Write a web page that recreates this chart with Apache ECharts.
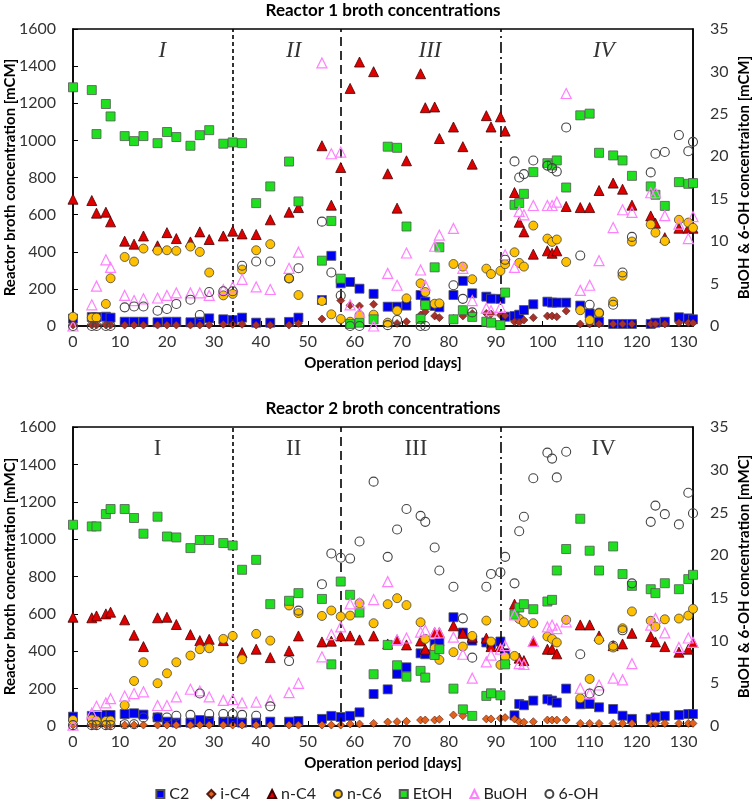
<!DOCTYPE html>
<html>
<head>
<meta charset="utf-8">
<script src="https://cdn.jsdelivr.net/npm/echarts@6/dist/echarts.min.js"></script>
<style>
  html, body { margin: 0; padding: 0; background: #fff; }
  #chart { width: 754px; height: 802px; }
</style>
</head>
<body>
<div id="chart"></div>
<script>
// sampling days (shared by both reactors)
var days = [0, 4, 5, 7, 8, 11, 13, 15, 18, 20, 22, 25, 27, 29, 32, 34, 36, 39, 42, 46, 48,
  53, 55, 57, 59, 61, 64, 67, 69, 71, 74, 75, 77, 78, 81, 83, 85, 88, 89, 91, 92,
  94, 95, 96, 98, 101, 102, 103, 105, 108, 110, 112, 115, 117, 119, 123, 124, 126, 129, 131, 132];

var seriesNames = ['C2', 'i-C4', 'n-C4', 'n-C6', 'EtOH', 'BuOH', '6-OH'];
var xTicks = [0, 10, 20, 30, 40, 50, 60, 70, 80, 90, 100, 110, 120, 130];
var phaseNames = ['I', 'II', 'III', 'IV'];
var phaseX1 = [19, 47, 76, 113];
var phaseX2 = [18, 47, 73, 113];
var phaseY = 1480;
var phaseBounds = [34, 57, 91];

// Reactor 1 [mCM], BuOH & 6-OH on right axis
var r1C2 = [40, 48, 48, 50, 45, 23, 23, 23, 20, 23, 23, 20, 23, 41, 36, 32, 45, 18, 18, 22, 45,
  140, 378, 230, 237, 201, 173, 104, 104, 110, 167, 131, 108, 101, 167, 243, 176, 158, 147, 146, 50,
  54, 61, 86, 117, 131, 126, 126, 126, 110, 68, 23, 11, 11, 11, 11, 18, 23, 47, 41, 36];
var r1iC4 = [5, 5, 5, 5, 5, 5, 5, 5, 5, 5, 5, 5, 5, 5, 9, 9, 9, 5, 5, 5, 14,
  38, null, 137, 112, 108, 117, 18, 14, 23, 59, 77, 54, 45, 41, 54, 68, 68, 65, 59, 56,
  23, 20, 32, 45, 54, 54, 50, 81, 11, 11, 11, 11, 11, 11, 11, 11, 11, 18, 18, 16];
var r1nC4 = [683, 676, 608, 613, 561, 457, 441, 485, 432, 503, 471, 453, 507, 466, 485, 511, 496, 493, 572, 613, 638,
  971, 651, 854, 1280, 1422, 1370, 820, 635, 890, 1359, 1176, 1180, 1010, 1072, 966, 872, 1133, 1072, 1127, 1050,
  719, 559, 507, 387, 405, 392, 405, 644, 638, 638, 730, 770, 737, 651, 593, 554, 476, 527, 527, 527];
var r1nC6 = [50, 45, 45, 119, 257, 372, 347, 417, 406, 408, 405, 428, 399, 288, 165, 173, 304, 408, 441, 257, 167,
  135, 63, 38, 23, 58, 61, 18, 83, 149, 230, 183, 120, 122, 334, 320, 252, 309, 280, 297, 333,
  397, 340, 320, 541, 471, 453, 466, 345, 85, 32, 72, 131, 271, 455, 547, 503, 458, 572, 557, 529];
var r1EtOH = [1286, 1271, 1034, 1196, 1129, 1023, 996, 1023, 985, 1045, 1018, 971, 1028, 1055, 982, 989, 985, 662, 752, 886, 671,
  352, 566, 255, 11, 18, 36, 966, 960, 536, 38, 113, 316, 424, 36, 85, 49, 23, 18, 5, 180,
  653, 662, 712, 829, 877, 865, 892, 746, 1135, 1144, 933, 919, 892, 809, 752, 707, 647, 775, 766, 770];
var r1BuOH = [0, 2.5, 4.7, 7.8, 6.9, 3.6, 3.0, 3.2, 3.3, 3.6, 3.9, 3.9, 3.9, 3.6, 4.3, 4.6, 5.5, 4.6, 4.3, 6.8, 8.7,
  31.0, 20.3, 20.5, 2.5, 1.6, 0, 6.2, 4.8, 8.6, 6.6, 4.8, 9.4, 10.7, 11.5, 6.8, 3.0, 2.1, 1.8, 2.2, 8.4,
  6.9, 13.5, 13.1, 14.2, 14.2, 14.2, 14.6, 27.4, 4.2, 4.8, 7.7, 11.6, 13.7, 13.4, 15.7, 15.7, 13.0, 12.0, 10.3, 12.9];
var r1SixOH = [0, 0, 0, 0, 0, 2.2, 2.3, 2.3, 1.8, 2.0, 2.6, 3.1, 1.3, 4.0, 4.1, 4.1, 7.1, 7.6, 7.6, 5.6, 6.8,
  12.3, 6.3, 3.6, 0, 0, null, 0.1, 0.7, null, 0, 0, null, null, 4.8, 3.2, 1.6, null, null, null, 7.8,
  19.4, 17.5, 17.9, 19.5, 18.9, 18.6, 18.2, 23.4, 8.3, 2.5, 1.5, 2.5, 6.3, 10.5, 18.1, 20.3, 20.5, 22.5, 20.6, 21.7];

// Reactor 2 [mMC]
var r2C2 = [50, 54, 57, 59, 59, 64, 68, 61, 46, 23, 18, 18, 32, 27, 23, 23, 18, 18, 23, 23, 27,
  38, 54, 48, 54, 73, 171, 196, 279, 314, 389, 384, 439, 452, 582, 500, 457, 447, 439, 452, 390,
  57, 118, 111, 136, 143, 136, 125, 200, 116, 118, 100, 91, 55, 38, 38, 46, 54, 59, 64, 64];
var r2iC4 = [5, 5, 5, 5, 5, 5, 5, 5, 5, 5, 5, 5, 5, 5, 5, 5, 5, 5, 5, 5, 5,
  5, 5, 5, 11, 11, 14, 21, 23, 25, 32, 32, 32, 36, 59, 55, null, 38, 38, 41, 45,
  38, 23, 20, 23, 32, 32, 32, 32, 14, 14, 14, 14, 14, 14, 14, 14, 14, 14, 14, 14];
var r2nC4 = [582, 579, 589, 600, 609, 568, 486, 425, 579, 582, 543, 489, 457, 464, 457, null, 393, 411, 366, 402, 482,
  450, 454, 482, 482, 461, 482, 439, 461, 434, 455, 411, 500, 500, 536, 496, 475, 470, 425, 425, 354,
  652, 363, 350, 452, 411, 411, 386, null, 541, 541, 482, 430, 439, 496, 479, 450, 425, 395, 411, 447];
var r2nC6 = [32, 36, 29, 27, 29, 111, 241, 341, 229, 282, 341, 377, 411, 416, 466, 482, 357, 493, 457, 645, 604,
  589, 618, 586, 591, 657, 550, 652, 684, 647, 555, 466, 416, 354, 395, 425, 482, 564, 452, 327, 371,
  375, 573, 555, 550, 479, 466, 447, 568, 148, 252, 461, 420, 523, 613, 563, 532, 571, 575, 591, 627];
var r2EtOH = [1077, 1068, 1068, 1134, 1161, 1161, 1113, 1029, 1120, 1014, 1009, 952, 995, 995, 979, 966, 836, 889, 652, 670, 711,
  680, 330, 773, 702, 607, 277, 434, 325, 264, 295, 259, 380, 411, 200, 89, 54, 161, 175, 164, 330,
  595, 634, 652, 625, 666, 675, 832, 947, 1109, 938, 832, 961, 813, 750, 732, 711, 764, 732, 786, 809];
var r2BuOH = [0.1, 1.5, 2.3, 2.7, 3.2, 3.5, 3.8, 4.0, 2.4, 2.4, 3.4, 4.3, 4.1, 3.4, 3.0, 3.1, 2.7, 2.8, 3.0, 3.9, 5.0,
  8.1, 10.7, 11.6, 14.3, 14.4, 14.8, 16.9, 10.1, 10.3, 11.0, 11.2, 10.9, 10.9, 10.4, 8.4, 5.6, 7.5, 8.3, 9.0, 9.4,
  13.0, 7.3, 7.2, 9.9, 11.6, 11.8, 11.4, 12.2, 4.4, 3.8, 4.8, 5.6, 5.4, 7.3, 11.8, 12.6, 10.9, 9.2, 10.3, 9.8];
var r2SixOH = [0.1, 0.1, 0.1, 0.1, 0.1, 0.2, 0.2, 1.0, 1.0, 1.0, 1.2, 1.3, 3.8, 1.4, 1.4, 1.4, 1.3, 1.2, 2.3, 7.6, 13.5,
  16.6, 20.2, 19.7, 19.6, 21.6, 28.6, 19.8, 23.0, 25.4, 24.6, 23.9, 20.9, 18.2, 16.3, 12.6, 8.0, 16.3, 17.8, 18.0, 19.8,
  16.7, 22.8, 24.5, 29.0, 32.0, 31.3, 29.1, 32.1, 8.4, 3.8, 4.1, 9.4, 11.2, 16.7, 23.9, 25.8, 24.8, 23.6, 27.3, 24.9];

var font = 'Lato, "Noto Sans", sans-serif';

function pts(vals) {
	var out = [];
	for (var i = 0; i < days.length; i++) {
		if (vals[i] != null) out.push([days[i], vals[i]]);
	}
	return out;
}

// marker look per series, index follows seriesNames
function markerStyles(iC4Color) {
	return [
		{ symbol: 'rect', size: 9, itemStyle: { color: '#0000f0', borderColor: '#555', borderWidth: 0.8 } },
		{ symbol: 'diamond', size: 8, itemStyle: { color: iC4Color, borderColor: '#5a1a10', borderWidth: 0.6 } },
		{ symbol: 'triangle', size: 10, itemStyle: { color: '#e00000', borderColor: '#400', borderWidth: 0.8 } },
		{ symbol: 'circle', size: 9, itemStyle: { color: '#ffc000', borderColor: '#444', borderWidth: 0.8 } },
		{ symbol: 'rect', size: 9, itemStyle: { color: '#1ee01e', borderColor: '#555', borderWidth: 0.8 } },
		{ symbol: 'triangle', size: 10, itemStyle: { color: 'rgba(255,255,255,0)', borderColor: '#ff80ff', borderWidth: 1.2 } },
		{ symbol: 'circle', size: 9, itemStyle: { color: 'rgba(255,255,255,0)', borderColor: '#444', borderWidth: 1.1 } }
	];
}

function buildSeries(g, valueSets, iC4Color, phaseX) {
	var styles = markerStyles(iC4Color);
	var list = [];
	for (var i = 0; i < seriesNames.length; i++) {
		var rightAxis = (i >= 5);
		var st = styles[i].itemStyle;
		st.opacity = 1;
		list.push({
			name: seriesNames[i],
			type: 'scatter',
			xAxisIndex: g,
			yAxisIndex: g * 2 + (rightAxis ? 1 : 0),
			symbol: styles[i].symbol,
			symbolSize: styles[i].size,
			itemStyle: st,
			data: pts(valueSets[i]),
			z: 3 + i
		});
	}
	// phase boundaries and labels
	var labels = [];
	for (var k = 0; k < phaseNames.length; k++) {
		labels.push([phaseX[k], phaseY, phaseNames[k]]);
	}
	list.push({
		name: 'phases',
		type: 'scatter',
		xAxisIndex: g,
		yAxisIndex: g * 2,
		silent: true,
		symbolSize: 0,
		itemStyle: { color: 'rgba(0,0,0,0)' },
		label: {
			show: true,
			position: 'inside',
			formatter: function (p) { return p.value[2]; },
			fontFamily: '"Liberation Serif", "DejaVu Serif", serif',
			fontStyle: g === 0 ? 'italic' : 'normal',
			fontSize: 23,
			color: '#000'
		},
		data: labels,
		markLine: {
			silent: true,
			symbol: 'none',
			label: { show: false },
			lineStyle: { color: '#000', width: 1.6 },
			data: [
				{ xAxis: phaseBounds[0], lineStyle: { type: [4, 3] } },
				{ xAxis: phaseBounds[1], lineStyle: { type: [9, 5] } },
				{ xAxis: phaseBounds[2], lineStyle: { type: [11, 4, 2, 4] } }
			]
		},
		z: 2
	});
	return list;
}

function makeX(g) {
	return {
		type: 'value',
		gridIndex: g,
		min: 0,
		max: 132,
		interval: 10,
		name: 'Operation period [days]',
		nameLocation: 'middle',
		nameGap: 30,
		nameMoveOverlap: false,
		nameTextStyle: { fontFamily: font, fontWeight: 'bold', fontSize: 15, color: '#000' },
		axisLine: { onZero: false, lineStyle: { color: '#000', width: 1.5 } },
		axisTick: { inside: true, length: 5, customValues: xTicks, lineStyle: { color: '#000' } },
		axisLabel: { customValues: xTicks, fontFamily: font, fontSize: 16, color: '#333', margin: 8 },
		splitLine: { show: false }
	};
}

function makeY(g, side, max, interval, title) {
	return {
		type: 'value',
		gridIndex: g,
		position: side,
		min: 0,
		max: max,
		interval: interval,
		name: title,
		nameLocation: 'middle',
		nameGap: side === 'left' ? 55 : 44,
		nameMoveOverlap: false,
		nameTextStyle: { fontFamily: font, fontWeight: 'bold', fontSize: 15, color: '#000' },
		axisLine: { show: true, lineStyle: { color: '#000', width: 1.5 } },
		axisTick: { show: side === 'left', inside: true, length: 5, lineStyle: { color: '#000' } },
		axisLabel: {
			fontFamily: font, fontSize: 16, color: '#333', margin: 17,
			formatter: function (v) { return String(v); }
		},
		splitLine: { show: false }
	};
}

var chart = echarts.init(document.getElementById('chart'));

var series = []
	.concat(buildSeries(1, [r2C2, r2iC4, r2nC4, r2nC6, r2EtOH, r2BuOH, r2SixOH], '#e2621b', phaseX2))
	.concat(buildSeries(0, [r1C2, r1iC4, r1nC4, r1nC6, r1EtOH, r1BuOH, r1SixOH], '#a8322a', phaseX1));

var option = {
	backgroundColor: '#fff',
	animation: false,
	title: [
		{ text: 'Reactor 1 broth concentrations', left: 383, top: 2, textAlign: 'center', padding: 0,
			textStyle: { fontFamily: font, fontWeight: 'bold', fontSize: 17, color: '#000' } },
		{ text: 'Reactor 2 broth concentrations', left: 383, top: 400, textAlign: 'center', padding: 0,
			textStyle: { fontFamily: font, fontWeight: 'bold', fontSize: 17, color: '#000' } }
	],
	legend: {
		data: seriesNames,
		left: 'center',
		top: 781,
		itemWidth: 8,
		itemHeight: 8,
		itemGap: 17,
		textStyle: { fontFamily: font, fontSize: 16, color: '#222' }
	},
	grid: [
		{ left: 73, top: 29, width: 620, height: 297, show: true, borderColor: '#000', borderWidth: 1.5,
			backgroundColor: 'transparent', outerBoundsMode: 'none', containLabel: false },
		{ left: 73, top: 427, width: 620, height: 299, show: true, borderColor: '#000', borderWidth: 1.5,
			backgroundColor: 'transparent', outerBoundsMode: 'none', containLabel: false }
	],
	xAxis: [makeX(0), makeX(1)],
	yAxis: [
		makeY(0, 'left', 1600, 200, 'Reactor broth concentration [mCM]'),
		makeY(0, 'right', 35, 5, 'BuOH & 6-OH concentraiton [mCM]'),
		makeY(1, 'left', 1600, 200, 'Reactor broth concentration [mMC]'),
		makeY(1, 'right', 35, 5, 'BuOH & 6-OH concentration [mMC]')
	],
	series: series
};

chart.setOption(option);
</script>
</body>
</html>
